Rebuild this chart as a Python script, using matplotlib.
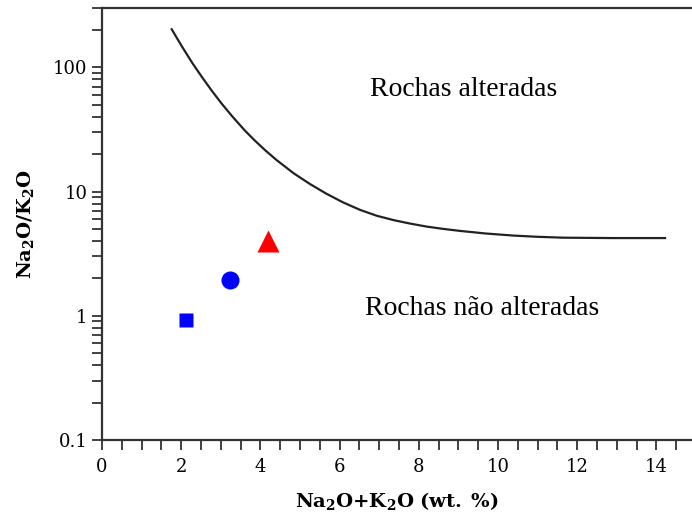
import numpy as np
import matplotlib.pyplot as plt
from matplotlib.ticker import MultipleLocator, LogLocator, FixedLocator, NullFormatter

plt.rcParams["font.family"] = "DejaVu Serif"
plt.rcParams["mathtext.fontset"] = "dejavuserif"
plt.rcParams["xtick.direction"] = "out"
plt.rcParams["ytick.direction"] = "out"

# boundary curve (altered / unaltered rocks)
curve_x = [1.76, 2.01, 2.27, 2.52, 2.77, 3.02, 3.28, 3.61, 3.86, 4.12, 4.41, 4.83,
           5.25, 5.67, 6.09, 6.52, 6.94, 7.36, 7.78, 8.20, 8.62, 9.04, 9.7, 10.39,
           11.0, 11.65, 12.9, 14.22]
curve_y = [202.3, 148.6, 109.6, 83.8, 64.9, 51.1, 40.6, 30.9, 25.7, 21.5, 17.9, 14.1,
           11.5, 9.59, 8.17, 7.11, 6.38, 5.89, 5.52, 5.22, 5.0, 4.82, 4.59, 4.42,
           4.32, 4.25, 4.22, 4.22]

# samples
square_x, square_y = [2.11], [0.92]
circle_x, circle_y = [3.23], [1.95]
triangle_x, triangle_y = [4.2], [4.0]

fig = plt.figure(figsize=(6.92, 5.18), dpi=100)
ax = fig.add_axes([102 / 692, 78 / 518, 590 / 692, 432 / 518])

ax.plot(curve_x, curve_y, color="#222222", lw=1.6)
ax.plot(square_x, square_y, "s", color="#0000ff", ms=10.5, mec="none")
ax.plot(circle_x, circle_y, "o", color="#0000ff", ms=13, mec="none")
ax.plot(triangle_x, triangle_y, "^", color="#ff0000", ms=16, mec="none")

ax.text(9.12, 66.5, "Rochas alteradas", family="Liberation Serif", fontsize=20,
        ha="center", va="center")
ax.text(9.6, 1.14, "Rochas não alteradas", family="Liberation Serif", fontsize=20,
        ha="center", va="center")

ax.set_yscale("log")
ax.set_xlim(0, 14.9)
ax.set_ylim(0.1, 300)

ax.xaxis.set_major_locator(FixedLocator([0, 2, 4, 6, 8, 10, 12, 14]))
ax.xaxis.set_minor_locator(MultipleLocator(0.5))
ax.yaxis.set_major_locator(FixedLocator([0.1, 1, 10, 100]))
ax.yaxis.set_major_formatter(plt.FuncFormatter(lambda v, p: f"{v:g}"))
ax.yaxis.set_minor_locator(LogLocator(base=10, subs=np.arange(2, 10)))
ax.yaxis.set_minor_formatter(NullFormatter())

ax.tick_params(which="both", length=7, width=1.3, color="#333333", labelsize=13)
ax.tick_params(axis="x", pad=6)

ax.spines["right"].set_visible(False)
for s in ["left", "top", "bottom"]:
    ax.spines[s].set_linewidth(1.6)
    ax.spines[s].set_color("#333333")

ax.set_xlabel(r"$\mathbf{Na_2O{+}K_2O\ (wt.\ \%)}$", fontsize=14, labelpad=10)
ax.set_ylabel(r"$\mathbf{Na_2O/K_2O}$", fontsize=14, labelpad=12)

plt.savefig("out.png", dpi=100)
